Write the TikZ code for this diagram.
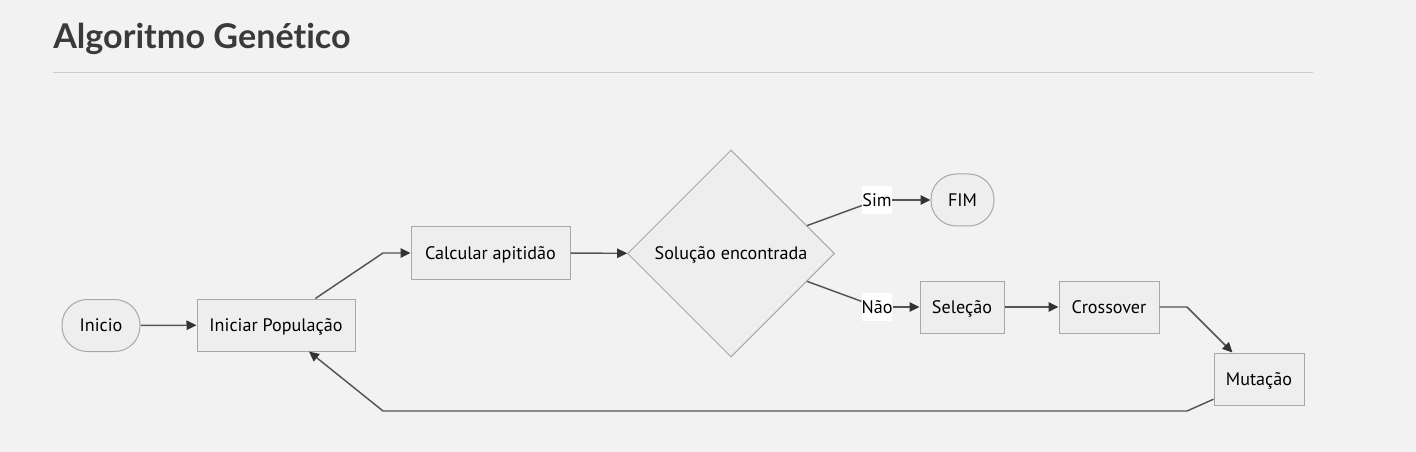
\documentclass[tikz,border=0pt]{standalone}
\usepackage{fontspec}
\setmainfont{PT Sans}
\newfontfamily\titlefont[Ligatures=CommonOff]{Lato}
\usetikzlibrary{shapes.geometric,arrows.meta}
\definecolor{bg}{HTML}{F2F2F2}
\definecolor{nodefill}{HTML}{EEEEEE}
\definecolor{nodeline}{HTML}{A8A8A8}
\definecolor{edgecol}{HTML}{555555}
\definecolor{tipcol}{HTML}{333333}
\definecolor{titlecol}{HTML}{3A3A3A}
\definecolor{rulecol}{HTML}{CCCCCC}
\begin{document}
\begin{tikzpicture}[x=0.75pt,y=-0.75pt,
  txt/.style={font=\fontsize{13.6}{15}\selectfont, text=black, text height=9.3pt, text depth=0pt},
  box/.style={txt, draw=nodeline, fill=nodefill, line width=0.75pt, minimum height=39pt, inner sep=0pt},
  stadium/.style={box, rounded corners=19pt},
  decision/.style={txt, diamond, aspect=1, draw=nodeline, fill=nodefill, line width=0.75pt, minimum width=155.25pt, minimum height=155.25pt, inner sep=0pt},
  lbl/.style={txt, fill=white, inner sep=0pt, minimum height=21.5pt, minimum width=22.5pt},
  edge/.style={draw=edgecol, line width=1.1pt, line join=miter, -{Triangle[length=7.5pt,width=7pt,color=tipcol]}},
  plain/.style={draw=edgecol, line width=1.1pt}
]
\fill[bg] (0,0) rectangle (1416,452);
\useasboundingbox (0,0) rectangle (1416,452);
% title
\node[anchor=base west, inner sep=0pt, text=titlecol, font=\titlefont\bfseries\fontsize{25.6}{30}\selectfont] (title) at (53,48.5) {Algoritmo Genético};
\draw[rulecol, line width=0.75pt] (53,73) -- (1313,73);
% nodes
\node[stadium, minimum width=58.5pt] (ini) at (101,325.5) {Inicio};
\node[box, minimum width=118.5pt] (ip) at (276,325) {Iniciar População};
\node[box, minimum width=119.25pt] (cal) at (490.5,253) {Calcular apitidão};
\node[decision] (dia) at (731,253.5) {Solução encontrada};
\node[stadium, minimum width=47.25pt] (fim) at (962.5,200) {FIM};
\node[box, minimum width=63pt] (sel) at (962,307) {Seleção};
\node[box, minimum width=75pt] (cro) at (1109,307) {Crossover};
\node[box, minimum width=67.5pt] (mut) at (1259,379) {Mutação};
% edge labels
\node[lbl] (sim) at (877,200) {Sim};
\node[lbl] (nao) at (877,307) {Não};
% bend points
\coordinate (b1) at (383,253);
\coordinate (b3) at (1187,307);
\coordinate (b4) at (1187,411);
\coordinate (b5) at (383,411);
% edges
\draw[edge] (ini) -- (ip);
\draw[edge] (ip) -- (b1) -- (cal);
\draw[edge] (cal) -- (dia);
\draw[plain] (dia) -- (sim);
\draw[edge] (sim) -- (fim);
\draw[plain] (dia) -- (nao);
\draw[edge] (nao) -- (sel);
\draw[edge] (sel) -- (cro);
\draw[edge] (cro) -- (b3) -- (mut);
\draw[edge] (mut) -- (b4) -- (b5) -- (ip);
\end{tikzpicture}
\end{document}
